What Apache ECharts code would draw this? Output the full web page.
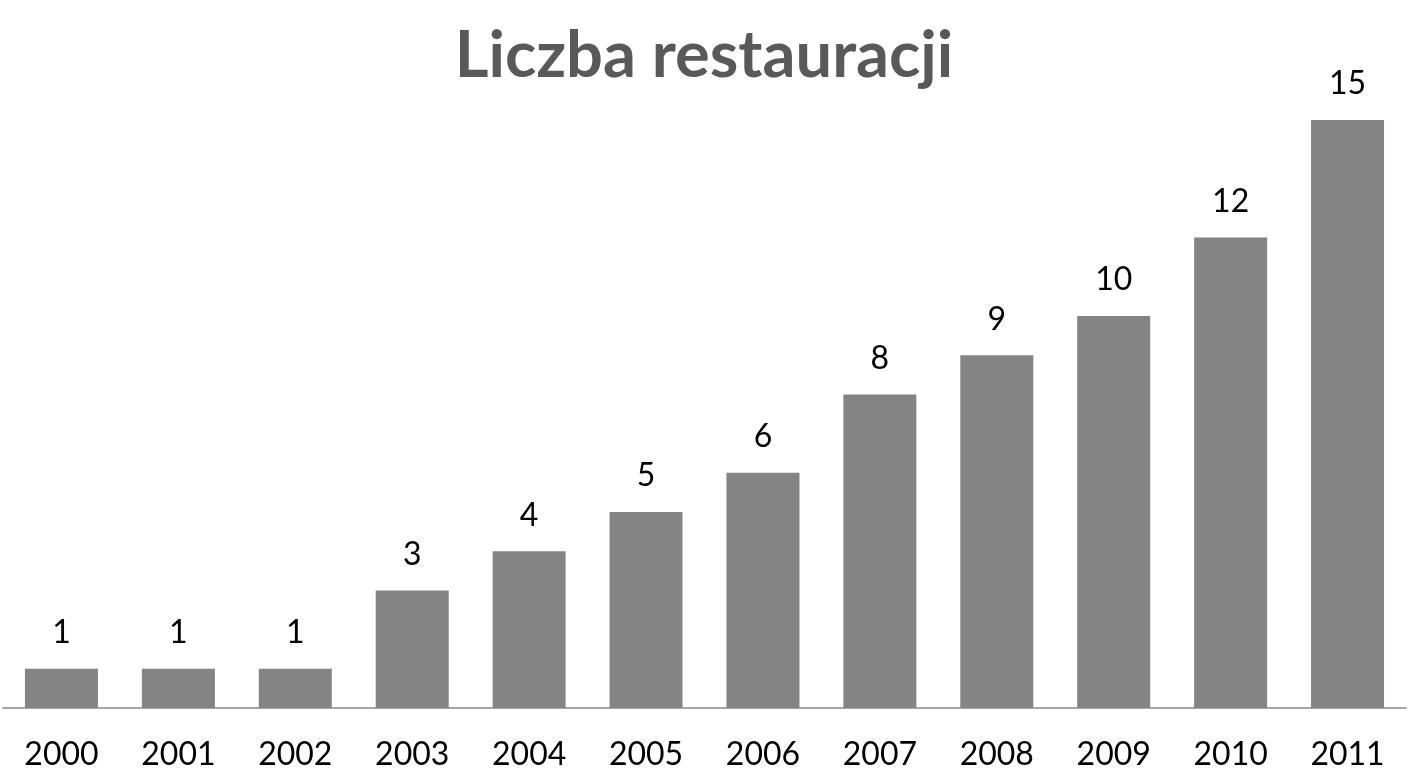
<!DOCTYPE html>
<html>
<head>
<meta charset="utf-8">
<script src="https://cdn.jsdelivr.net/npm/echarts@6/dist/echarts.min.js"></script>
<style>
html,body{margin:0;padding:0;background:#fff;}
#chart{width:1408px;height:768px;}
</style>
</head>
<body>
<div id="chart"></div>
<script>
const titleText = "Liczba restauracji";
const years = ["2000","2001","2002","2003","2004","2005","2006","2007","2008","2009","2010","2011"];
const restaurants = [1,1,1,3,4,5,6,8,9,10,12,15];

const chart = echarts.init(document.getElementById('chart'));
chart.setOption({
  backgroundColor: '#ffffff',
  animation: false,
  title: {
    text: titleText,
    left: 'center',
    top: 19,
    textStyle: { fontFamily: 'Lato', fontWeight: 'bold', fontSize: 65, color: '#595959' }
  },
  grid: { left: 3, right: 2, top: 120, bottom: 60, containLabel: false, outerBoundsMode: 'none' },
  xAxis: {
    type: 'category',
    data: years,
    axisLine: { show: true, lineStyle: { color: '#a6a6a6', width: 2 } },
    axisTick: { show: false },
    axisLabel: { fontFamily: 'Lato', fontSize: 32, color: '#000', margin: 31 }
  },
  yAxis: {
    type: 'value',
    min: 0,
    max: 15,
    show: false,
    splitLine: { show: false }
  },
  series: [{
    type: 'bar',
    data: restaurants,
    barWidth: 73,
    itemStyle: { color: '#848484' },
    label: { show: true, position: 'top', distance: 20, fontFamily: 'Lato', fontSize: 32, color: '#000' }
  }]
});
</script>
</body>
</html>
